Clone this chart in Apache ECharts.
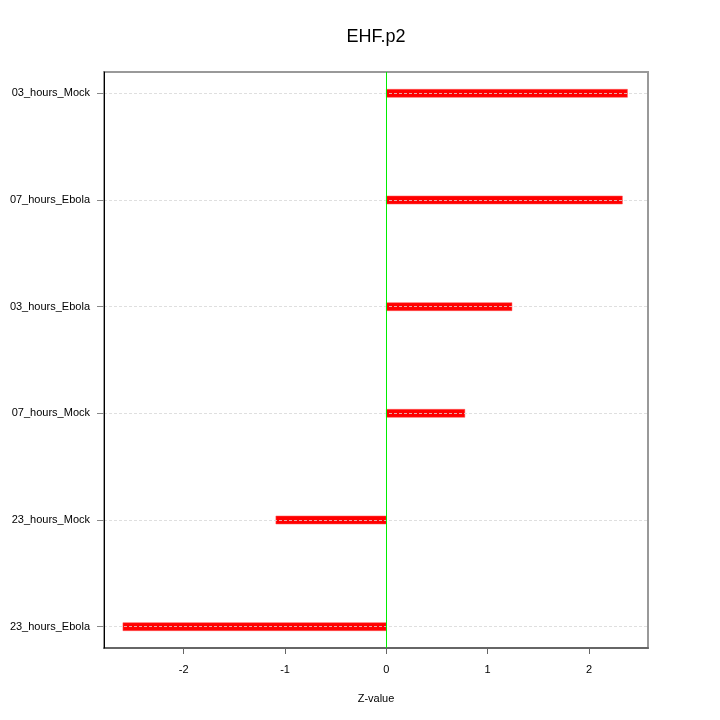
<!DOCTYPE html>
<html>
<head>
<meta charset="utf-8">
<script src="https://cdn.jsdelivr.net/npm/echarts@6/dist/echarts.min.js"></script>
<style>html,body{margin:0;padding:0;background:#fff}#c{width:720px;height:720px}</style>
</head>
<body>
<div id="c"></div>
<script>
var categories = ['03_hours_Mock','07_hours_Ebola','03_hours_Ebola','07_hours_Mock','23_hours_Mock','23_hours_Ebola'];
var zValues = [2.38, 2.33, 1.24, 0.775, -1.09, -2.60];
var xTicks = [-2, -1, 0, 1, 2];
var yPositions = categories.map(function(_, i){ return i + 1; });

var chart = echarts.init(document.getElementById('c'), null, {renderer: 'canvas'});
var data = zValues.map(function(v, i){ return [v, yPositions[i]]; });
var font = 'Liberation Sans, Arial, Helvetica, sans-serif';

chart.setOption({
  animation: false,
  backgroundColor: '#fff',
  title: {
    text: 'EHF.p2', left: 371, top: 23, textAlign: 'center',
    textStyle: {fontFamily: font, fontSize: 18, fontWeight: 'normal', color: '#000'}
  },
  grid: {left: 104, right: 72, top: 72, bottom: 72, show: true, borderColor: '#999', borderWidth: 2, backgroundColor: 'transparent'},
  xAxis: {
    type: 'value', min: -2.787, max: 2.583,
    name: 'Z-value', nameLocation: 'middle', nameGap: 45,
    nameTextStyle: {fontFamily: font, fontSize: 11, color: '#000'},
    axisLine: {show: true, lineStyle: {color: '#666', width: 2}},
    axisTick: {show: true, length: 6, customValues: xTicks, lineStyle: {color: '#666'}},
    axisLabel: {customValues: xTicks, margin: 16, fontFamily: font, fontSize: 11, color: '#000'},
    splitLine: {show: false}
  },
  yAxis: {
    type: 'value', min: 0.8, max: 6.2, inverse: true, z: 3,
    axisLine: {show: true, onZero: false, lineStyle: {color: '#000', width: 1}},
    axisTick: {show: true, length: 7, customValues: yPositions, lineStyle: {color: '#888'}},
    axisLabel: {customValues: yPositions, margin: 14, fontFamily: font, fontSize: 11, color: '#000',
      formatter: function(v){ return categories[Math.round(v) - 1]; }},
    splitLine: {show: true, lineStyle: {color: 'rgba(215,215,215,0.8)', type: [3, 2], width: 1}}
  },
  series: [{
    type: 'custom',
    z: 2,
    data: data,
    renderItem: function(params, api) {
      var y = api.value(1);
      var p0 = api.coord([0, y]);
      var p1 = api.coord([api.value(0), y]);
      var x = Math.min(p0[0], p1[0]);
      var w = Math.abs(p1[0] - p0[0]);
      return {
        type: 'rect',
        shape: {x: x, y: p0[1] - 4, width: w, height: 8},
        style: {fill: '#ff0000', stroke: 'rgba(255,80,80,0.5)', lineWidth: 1}
      };
    },
    markLine: {
      silent: true, symbol: 'none', z: 5,
      label: {show: false},
      lineStyle: {color: '#00ee00', type: 'solid', width: 1},
      data: [{xAxis: 0}]
    }
  }]
});
</script>
</body>
</html>
